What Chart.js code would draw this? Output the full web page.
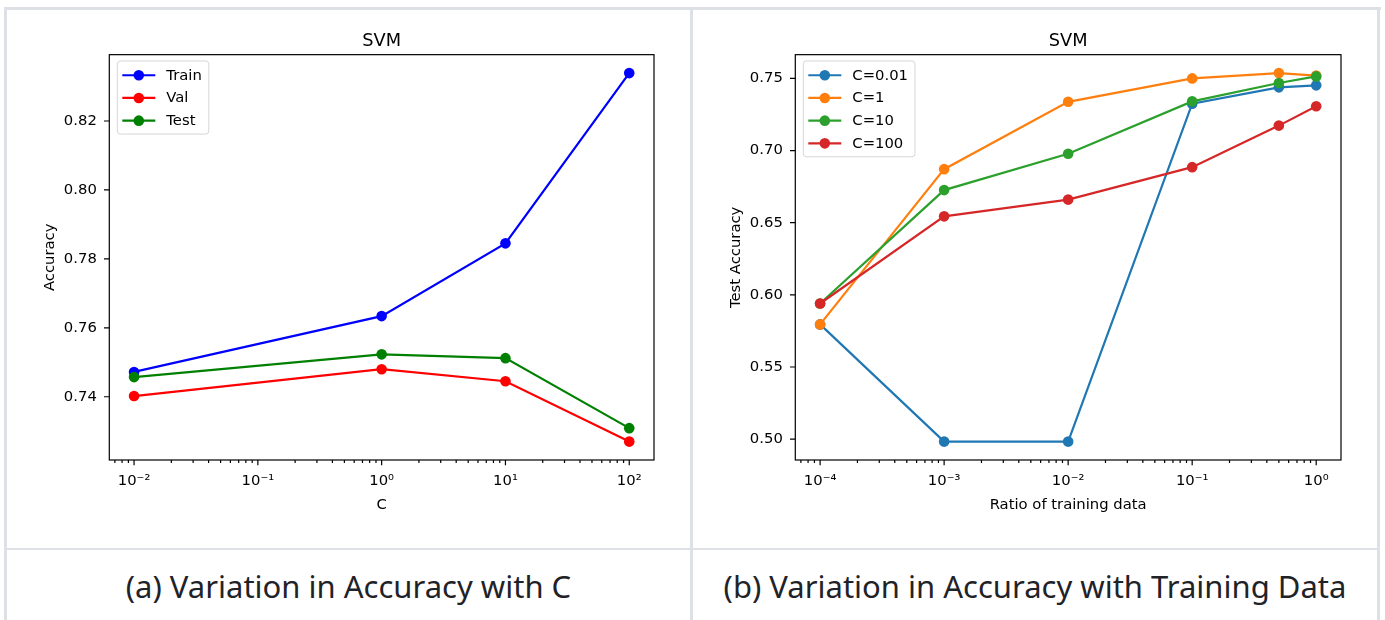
<!DOCTYPE html>
<html lang="en">
<head>
    <meta charset="UTF-8">
    <title>SVM accuracy</title>
    <script src="https://cdn.jsdelivr.net/npm/chart.js"></script>
    <style>
        body { margin: 0; background: #fff; }
        #page { position: relative; width: 1385px; height: 620px; overflow: hidden; background: #fff; }
        .rule { position: absolute; background: #dde1e5; }
        .cell { position: absolute; }
        .caption {
            position: absolute; text-align: center; white-space: nowrap;
            font-family: "Noto Sans", sans-serif; font-size: 31px; line-height: 40px; color: #1f2328;
        }
    </style>
</head>
<body>
<div id="page">
    <div class="rule" style="left:4px;top:7px;width:1377px;height:3px"></div>
    <div class="rule" style="left:4px;top:7px;width:3px;height:613px"></div>
    <div class="rule" style="left:690px;top:7px;width:3px;height:613px"></div>
    <div class="rule" style="left:1377px;top:7px;width:3px;height:613px"></div>
    <div class="rule" style="left:4px;top:548px;width:1376px;height:2px"></div>

    <div class="cell" style="left:10px;top:12px"><canvas id="chartA" width="670" height="520"></canvas></div>
    <div class="cell" style="left:696px;top:12px"><canvas id="chartB" width="670" height="520"></canvas></div>

    <div class="caption" style="left:7px;width:683px;top:566px">(a) Variation in Accuracy with C</div>
    <div class="caption" style="left:693px;width:684px;top:566px">(b) Variation in Accuracy with Training Data</div>
</div>
<script>
    // (a) accuracy against C
    const cValues = [0.01, 1, 10, 100];
    const trainAcc = [0.7472, 0.7634, 0.7845, 0.8339];
    const valAcc = [0.7402, 0.7480, 0.7445, 0.7270];
    const testAcc = [0.7457, 0.7523, 0.7512, 0.7309];
    const xTicksA = [0.01, 0.1, 1, 10, 100];
    const xLabelsA = ["10\u207B\u00B2", "10\u207B\u00B9", "10\u2070", "10\u00B9", "10\u00B2"];
    const yTicksA = [0.74, 0.76, 0.78, 0.80, 0.82];

    // (b) test accuracy against ratio of training data
    const ratios = [0.0001, 0.001, 0.01, 0.1, 0.5, 1];
    const accC001 = [0.5795, 0.4983, 0.4983, 0.7325, 0.7438, 0.7452];
    const accC1 = [0.5795, 0.6871, 0.7338, 0.7500, 0.7537, 0.7520];
    const accC10 = [0.5940, 0.6726, 0.6978, 0.7341, 0.7468, 0.7514];
    const accC100 = [0.5940, 0.6544, 0.6660, 0.6885, 0.7173, 0.7307];
    const xTicksB = [0.0001, 0.001, 0.01, 0.1, 1];
    const xLabelsB = ["10\u207B\u2074", "10\u207B\u00B3", "10\u207B\u00B2", "10\u207B\u00B9", "10\u2070"];
    const yTicksB = [0.50, 0.55, 0.60, 0.65, 0.70, 0.75];

    const FONT = "'DejaVu Sans', sans-serif";
    const FS = 14.8;
    const MARKER = 5.3;

    // matplotlib-like 5% margins
    const padRange = (arrays) => {
        const all = [].concat(...arrays);
        const lo = Math.min(...all), hi = Math.max(...all);
        const m = (hi - lo) * 0.05;
        return [lo - m, hi + m];
    };
    const logRange = (xs) => {
        const lo = Math.log10(Math.min(...xs)), hi = Math.log10(Math.max(...xs));
        const m = (hi - lo) * 0.05;
        return [Math.pow(10, lo - m), Math.pow(10, hi + m)];
    };

    // box, tick marks and legend drawn the matplotlib way
    const mplAxes = {
        id: "mplAxes",
        afterDatasetsDraw(chart) {
            const { ctx, chartArea: a, scales } = chart;
            const x = scales.x, y = scales.y;
            ctx.save();
            ctx.strokeStyle = "#000";
            ctx.lineWidth = 1.2;
            ctx.strokeRect(a.left, a.top, a.right - a.left, a.bottom - a.top);
            ctx.beginPath();
            x.ticks.forEach(t => {
                const px = x.getPixelForValue(t.value);
                ctx.moveTo(px, a.bottom); ctx.lineTo(px, a.bottom + 5.3);
            });
            const e0 = Math.floor(Math.log10(x.min)), e1 = Math.ceil(Math.log10(x.max));
            for (let e = e0; e <= e1; e++) {
                for (let m = 2; m <= 9; m++) {
                    const v = m * Math.pow(10, e);
                    if (v < x.min || v > x.max) continue;
                    const px = x.getPixelForValue(v);
                    ctx.moveTo(px, a.bottom); ctx.lineTo(px, a.bottom + 3);
                }
            }
            y.ticks.forEach(t => {
                const py = y.getPixelForValue(t.value);
                ctx.moveTo(a.left, py); ctx.lineTo(a.left - 5.3, py);
            });
            ctx.stroke();

            // legend
            const sets = chart.data.datasets;
            ctx.font = FS + "px " + FONT;
            const textW = Math.max(...sets.map(d => ctx.measureText(d.label).width));
            const bx = a.left + 8, by = a.top + 6.3;
            const bw = 49 + textW + 7, bh = 14.3 + (sets.length - 1) * 22.7 + 13.4;
            ctx.beginPath();
            ctx.roundRect(bx, by, bw, bh, 3);
            ctx.fillStyle = "rgba(255,255,255,0.8)";
            ctx.fill();
            ctx.strokeStyle = "#d6d6d6";
            ctx.lineWidth = 1;
            ctx.stroke();
            ctx.textBaseline = "middle";
            ctx.textAlign = "left";
            sets.forEach((d, i) => {
                const cy = by + 14.3 + i * 22.7;
                ctx.strokeStyle = d.borderColor;
                ctx.lineWidth = 2.2;
                ctx.beginPath();
                ctx.moveTo(bx + 5, cy); ctx.lineTo(bx + 38, cy);
                ctx.stroke();
                ctx.fillStyle = d.borderColor;
                ctx.beginPath();
                ctx.arc(bx + 21.5, cy, MARKER, 0, Math.PI * 2);
                ctx.fill();
                ctx.fillStyle = "#000";
                ctx.fillText(d.label, bx + 49, cy + 0.5);
            });
            ctx.restore();
        }
    };

    const series = (xs, ys, label, color, order) => ({
        label: label,
        data: xs.map((v, i) => ({ x: v, y: ys[i] })),
        borderColor: color,
        backgroundColor: color,
        pointBackgroundColor: color,
        pointBorderColor: color,
        borderWidth: 2.2,
        pointRadius: MARKER,
        pointBorderWidth: 0,
        tension: 0,
        order: order
    });

    const makeChart = (id, datasets, xs, xTicks, xLabels, yTicks, yRange, xTitle, yTitle, padRight) => {
        const xr = logRange(xs);
        new Chart(document.getElementById(id), {
            type: "line",
            data: { datasets: datasets },
            plugins: [mplAxes],
            options: {
                responsive: false,
                animation: false,
                layout: { padding: { left: 0, right: padRight, top: 0, bottom: 0 } },
                plugins: {
                    legend: { display: false },
                    tooltip: { enabled: false },
                    title: {
                        display: true, text: "SVM", fullSize: false, color: "#000",
                        font: { family: FONT, size: 17.8, weight: "normal" },
                        padding: { top: 18.3, bottom: 3 }
                    }
                },
                scales: {
                    x: {
                        type: "logarithmic",
                        min: xr[0], max: xr[1],
                        grid: { display: false, drawTicks: false },
                        border: { display: false },
                        afterBuildTicks: s => { s.ticks = xTicks.map(v => ({ value: v })); },
                        afterFit: s => { s.height = 72; },
                        ticks: {
                            autoSkip: false, maxRotation: 0, padding: 12, color: "#000",
                            font: { family: FONT, size: FS },
                            callback: (v, i) => xLabels[i]
                        },
                        title: {
                            display: true, text: xTitle, color: "#000",
                            font: { family: FONT, size: FS }, padding: { top: 0, bottom: 18.1 }
                        }
                    },
                    y: {
                        type: "linear",
                        min: yRange[0], max: yRange[1],
                        grid: { display: false, drawTicks: false },
                        border: { display: false },
                        afterBuildTicks: s => { s.ticks = yTicks.map(v => ({ value: v })); },
                        afterFit: s => { s.width = 99.3; },
                        ticks: {
                            padding: 12.5, color: "#000",
                            font: { family: FONT, size: FS },
                            callback: v => v.toFixed(2)
                        },
                        title: {
                            display: true, text: yTitle, color: "#000",
                            font: { family: FONT, size: FS }, padding: { top: 30.8, bottom: 0 }
                        }
                    }
                }
            }
        });
    };

    makeChart("chartA", [
        series(cValues, trainAcc, "Train", "#0000ff", 3),
        series(cValues, valAcc, "Val", "#ff0000", 2),
        series(cValues, testAcc, "Test", "#008000", 1)
    ], cValues, xTicksA, xLabelsA, yTicksA, padRange([trainAcc, valAcc, testAcc]), "C", "Accuracy", 26);

    makeChart("chartB", [
        series(ratios, accC001, "C=0.01", "#1f77b4", 4),
        series(ratios, accC1, "C=1", "#ff7f0e", 3),
        series(ratios, accC10, "C=10", "#2ca02c", 2),
        series(ratios, accC100, "C=100", "#d62728", 1)
    ], ratios, xTicksB, xLabelsB, yTicksB, padRange([accC001, accC1, accC10, accC100]), "Ratio of training data", "Test Accuracy", 25);
</script>
</body>
</html>
